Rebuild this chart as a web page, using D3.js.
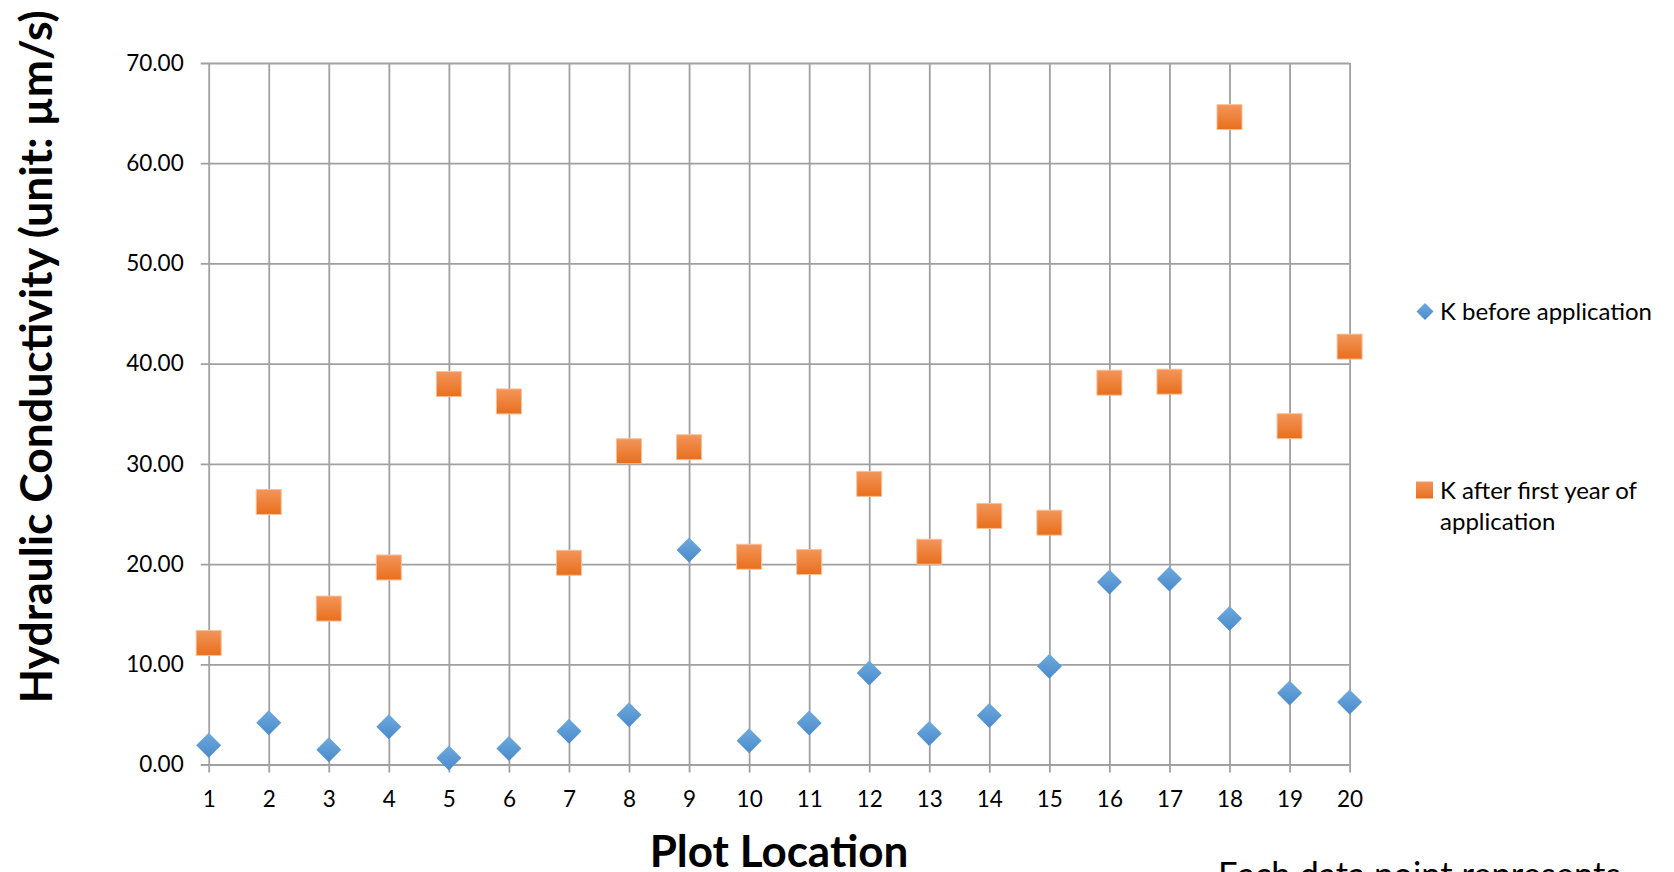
<!DOCTYPE html>
<html>
<head>
<meta charset="utf-8">
<script src="https://cdn.jsdelivr.net/npm/d3@7"></script>
<style>
  html, body { margin: 0; padding: 0; background: #fff; }
  svg { display: block; }
  text { font-family: Lato, "Open Sans", sans-serif; fill: #000; }
</style>
</head>
<body>
<svg id="chart" width="1674" height="872"></svg>
<script>
// Plot locations 1–20
const locations = [1, 2, 3, 4, 5, 6, 7, 8, 9, 10, 11, 12, 13, 14, 15, 16, 17, 18, 19, 20];
// Hydraulic conductivity before application (µm/s)
const kBefore = [1.93, 4.16, 1.46, 3.76, 0.66, 1.60, 3.33, 4.96, 21.40, 2.36,
                 4.13, 9.13, 3.10, 4.90, 9.80, 18.20, 18.50, 14.56, 7.13, 6.23];
// Hydraulic conductivity after the first year of application (µm/s)
const kAfter = [12.13, 26.20, 15.56, 19.66, 37.96, 36.23, 20.13, 31.26, 31.66, 20.73,
                20.20, 28.00, 21.23, 24.80, 24.13, 38.10, 38.20, 64.60, 33.76, 41.70];
const yTicks = [0, 10, 20, 30, 40, 50, 60, 70];
const seriesNames = ["K before application", "K after first year of application"];

const svg = d3.select("#chart");

const x = d3.scaleLinear().domain([1, 20]).range([208.7, 1349.6]);
const y = d3.scaleLinear().domain([0, 70]).range([764.5, 63]);

// Gradients for the marker fills
const defs = svg.append("defs");
function grad(id, top, bottom) {
  const g = defs.append("linearGradient").attr("id", id)
    .attr("x1", 0).attr("y1", 0).attr("x2", 0).attr("y2", 1);
  g.append("stop").attr("offset", "0%").attr("stop-color", top);
  g.append("stop").attr("offset", "100%").attr("stop-color", bottom);
}
grad("gBlue", "#6eaade", "#4a8acb");
grad("gOrange", "#f3955a", "#e86f1c");

const gridColor = "#a0a0a0";

// Horizontal gridlines (with left tick marks)
svg.append("g")
  .attr("transform", `translate(${x(1)},0)`)
  .call(d3.axisLeft(y).tickValues(yTicks).tickSize(0).tickFormat(""))
  .call(g => g.select(".domain").remove())
  .call(g => g.selectAll(".tick line")
    .attr("x1", -8).attr("x2", x(20) - x(1))
    .attr("stroke", gridColor).attr("stroke-width", 1.8));

// Vertical gridlines (with bottom tick marks)
svg.append("g")
  .attr("transform", `translate(0,${y(70)})`)
  .call(d3.axisBottom(x).tickValues(locations).tickSize(0).tickFormat(""))
  .call(g => g.select(".domain").remove())
  .call(g => g.selectAll(".tick line")
    .attr("y1", 0).attr("y2", y(0) - y(70) + 8)
    .attr("stroke", gridColor).attr("stroke-width", 1.8));

// Y tick labels
svg.append("g")
  .attr("transform", `translate(${x(1) - 25},0)`)
  .call(d3.axisLeft(y).tickValues(yTicks).tickSize(0).tickPadding(0).tickFormat(d3.format(".2f")))
  .call(g => g.select(".domain").remove())
  .call(g => g.selectAll("text")
    .style("font-family", "Lato, sans-serif").style("font-size", "22.5px").attr("fill", "#000"));

// X tick labels
svg.append("g")
  .attr("transform", `translate(0,${y(0) + 27})`)
  .call(d3.axisBottom(x).tickValues(locations).tickSize(0).tickPadding(0).tickFormat(d3.format("d")))
  .call(g => g.select(".domain").remove())
  .call(g => g.selectAll("text")
    .style("font-family", "Lato, sans-serif").style("font-size", "22.5px").attr("fill", "#000"));

// Diamond symbol with equal width and height
const diamond = {
  draw(ctx, size) {
    const r = Math.sqrt(size / 2);
    ctx.moveTo(0, -r); ctx.lineTo(r, 0); ctx.lineTo(0, r); ctx.lineTo(-r, 0); ctx.closePath();
  }
};

// Squares: after first year
svg.append("g").selectAll("path")
  .data(locations.map((loc, i) => ({ loc, v: kAfter[i] })))
  .join("path")
  .attr("transform", d => `translate(${x(d.loc)},${y(d.v)})`)
  .attr("d", d3.symbol(d3.symbolSquare, 25 * 25))
  .attr("fill", "url(#gOrange)")
  .attr("stroke", "#f8c09a").attr("stroke-width", 1);

// Diamonds: before application
svg.append("g").selectAll("path")
  .data(locations.map((loc, i) => ({ loc, v: kBefore[i] })))
  .join("path")
  .attr("transform", d => `translate(${x(d.loc)},${y(d.v)})`)
  .attr("d", d3.symbol(diamond, 2 * 12.5 * 12.5))
  .attr("fill", "url(#gBlue)");

// Legend
const legend = svg.append("g");
legend.append("path")
  .attr("transform", "translate(1425,311.5)")
  .attr("d", d3.symbol(diamond, 2 * 8.5 * 8.5))
  .attr("fill", "url(#gBlue)");
legend.append("text").attr("x", 1440).attr("y", 319.5)
  .style("font-size", "24px").text(seriesNames[0]);
legend.append("path")
  .attr("transform", "translate(1424.5,490)")
  .attr("d", d3.symbol(d3.symbolSquare, 17 * 17))
  .attr("fill", "url(#gOrange)");
legend.append("text").attr("x", 1440).attr("y", 498.5)
  .style("font-size", "24px").text("K after first year of");
legend.append("text").attr("x", 1440).attr("y", 530)
  .style("font-size", "24px").text("application");

// Axis titles
svg.append("text")
  .attr("transform", "translate(52,356.7) rotate(-90)")
  .attr("text-anchor", "middle")
  .style("font-size", "44.5px").style("font-weight", "bold")
  .text("Hydraulic Conductivity (unit: µm/s)");

svg.append("text")
  .attr("x", 779).attr("y", 866.5)
  .attr("text-anchor", "middle")
  .style("font-size", "44px").style("font-weight", "bold")
  .text("Plot Location");

// Note below the legend
svg.append("text")
  .attr("x", 1218).attr("y", 887)
  .style("font-size", "34.5px")
  .text("Each data point represents");
</script>
</body>
</html>
